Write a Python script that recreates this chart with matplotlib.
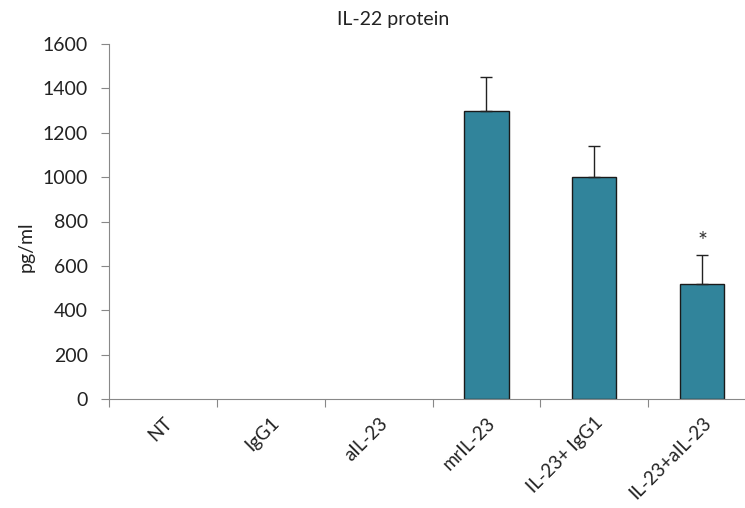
import numpy as np
import matplotlib.pyplot as plt

# data
categories = ["NT", "IgG1", "aIL-23", "mrIL-23", "IL-23+ IgG1", "IL-23+aIL-23"]
values = [0, 0, 0, 1300, 1000, 520]
errors = [0, 0, 0, 150, 140, 130]
stars = ["", "", "", "", "", "*"]

plt.rcParams['font.family'] = ['Lato', 'DejaVu Sans']

fig = plt.figure(figsize=(7.45, 5.08), dpi=100)
# axis runs past the right edge, as in the cropped original
ax = fig.add_axes([109 / 745, 1 - 399 / 508, 647 / 745, 355 / 508])

x = np.arange(len(categories))
teal = "#31849b"
shown = [i for i, v in enumerate(values) if v > 0]
ax.bar(x[shown], [values[i] for i in shown], width=0.41, color=teal,
       edgecolor="#1a1a1a", linewidth=1.0, zorder=2)
ax.errorbar(x[shown], [values[i] for i in shown],
            yerr=[[0] * len(shown), [errors[i] for i in shown]],
            fmt="none", ecolor="#222222", elinewidth=1.0, capsize=4,
            capthick=1.0, zorder=3)

for i, s in enumerate(stars):
    if s:
        ax.text(x[i], values[i] + errors[i] + 60, s, ha="center", va="center",
                fontsize=17, color="#333333")

ax.set_xlim(-0.5, len(categories) - 0.5)
ax.set_ylim(0, 1600)
ax.set_yticks(np.arange(0, 1601, 200))
ax.tick_params(axis="y", labelsize=14, length=6, color="#888888",
               labelcolor="#222222", pad=9)

# category ticks sit on the boundaries, labels at the centres
ax.set_xticks(np.arange(-0.5, len(categories), 1.0))
ax.set_xticklabels([])
ax.tick_params(axis="x", length=6, color="#888888", direction="out")
ax.set_xticks(x, minor=True)
ax.set_xticklabels(categories, minor=True, rotation=45, ha="right",
                   rotation_mode="anchor", fontsize=13.5, color="#222222")
ax.tick_params(axis="x", which="minor", length=0, pad=11)

for side in ["top", "right"]:
    ax.spines[side].set_visible(False)
ax.spines["left"].set_color("#888888")
ax.spines["bottom"].set_color("#888888")

ax.set_ylabel("pg/ml", fontsize=14, color="#222222")
ax.yaxis.set_label_coords(-0.115, 0.43)
fig.text(393 / 745, 1 - 20 / 508, "IL-22 protein", ha="center", va="center",
         fontsize=14, color="#222222")

fig.savefig("out.png", dpi=100)
